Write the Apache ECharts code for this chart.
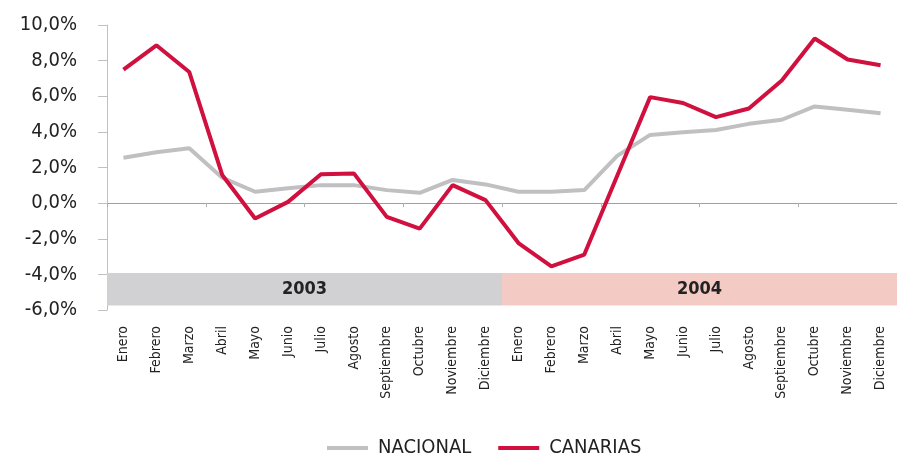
<!DOCTYPE html>
<html>
<head>
<meta charset="utf-8">
<script src="https://cdn.jsdelivr.net/npm/echarts@6/dist/echarts.min.js"></script>
<style>
  html, body { margin: 0; padding: 0; background: #fff; }
  #main { width: 897px; height: 458px; }
</style>
</head>
<body>
<div id="main"></div>
<script>
// meses (dos años)
var months = ['Enero', 'Febrero', 'Marzo', 'Abril', 'Mayo', 'Junio', 'Julio', 'Agosto',
  'Septiembre', 'Octubre', 'Noviembre', 'Diciembre'];
var categories = months.concat(months);

var nacional = [2.55, 2.86, 3.08, 1.43, 0.64, 0.83, 1.01, 1.01, 0.73, 0.58, 1.30, 1.05,
  0.64, 0.64, 0.73, 2.65, 3.83, 3.98, 4.11, 4.45, 4.68, 5.43, 5.24, 5.05];
var canarias = [7.50, 8.86, 7.36, 1.58, -0.86, 0.07, 1.62, 1.67, -0.77, -1.43, 1.01, 0.17,
  -2.24, -3.55, -2.89, 1.54, 5.95, 5.62, 4.83, 5.31, 6.89, 9.24, 8.06, 7.74];

// bandas de año
var years = ['2003', '2004'];
var yearStart = [0, 12];
var yearEnd = [11, 23];
var yearColors = ['#d1d1d4', '#f3cbc4'];

var FONT = "'DejaVu Sans Condensed', 'Liberation Sans', sans-serif";

var bands = [];
for (var i = 0; i < years.length; i++) {
  bands.push([yearStart[i], yearEnd[i], years[i], i]);
}

var chart = echarts.init(document.getElementById('main'));
chart.setOption({
  animation: false,
  grid: { left: 107, top: 25, width: 792, height: 285 },
  legend: {
    data: ['NACIONAL', 'CANARIAS'],
    left: 327,
    top: 438,
    padding: 0,
    icon: 'rect',
    itemWidth: 41,
    itemHeight: 4,
    itemGap: 27,
    textStyle: { fontFamily: FONT, fontSize: 20, color: '#222', padding: [0, 0, 0, 5] }
  },
  xAxis: [{
    type: 'category',
    data: categories,
    axisLine: { onZero: true, lineStyle: { color: '#a0a0a0', width: 1 } },
    axisTick: { show: true, length: 4, lineStyle: { color: '#b0b0b0' } },
    axisLabel: { show: false },
    splitLine: { show: false }
  }, {
    type: 'category',
    data: categories,
    position: 'bottom',
    axisLine: { show: false, onZero: false },
    axisTick: { show: false },
    axisLabel: {
      rotate: 90, margin: 16, interval: 0,
      fontFamily: FONT, fontSize: 14, color: '#222'
    }
  }],
  yAxis: {
    type: 'value',
    min: -6, max: 10, interval: 2,
    axisLine: { show: true, lineStyle: { color: '#c0c0c0' } },
    axisTick: { show: true, length: 9, lineStyle: { color: '#c0c0c0' } },
    splitLine: { show: false },
    axisLabel: {
      margin: 30,
      fontFamily: FONT, fontSize: 20, color: '#222',
      formatter: function (v) { return v.toFixed(1).replace('.', ',') + '%'; }
    }
  },
  series: [{
    type: 'custom',
    name: 'bands',
    xAxisIndex: 0,
    data: bands,
    encode: { x: [0, 1] },
    z: 1,
    silent: true,
    clip: false,
    renderItem: function (params, api) {
      var a = api.coord([api.value(0), -3.92]);
      var b = api.coord([api.value(1), -5.75]);
      var w = api.size([1, 0])[0];
      var idx = api.value(3);
      var x0 = a[0] - w / 2;
      var x1 = b[0] + w / 2;
      return {
        type: 'group',
        children: [{
          type: 'rect',
          shape: { x: x0, y: a[1], width: x1 - x0, height: b[1] - a[1] },
          style: { fill: yearColors[idx] }
        }, {
          type: 'text',
          style: {
            text: years[idx],
            x: (x0 + x1) / 2,
            y: (a[1] + b[1]) / 2,
            align: 'center',
            verticalAlign: 'middle',
            fill: '#222',
            font: 'bold 18px ' + FONT
          }
        }]
      };
    }
  }, {
    name: 'NACIONAL',
    type: 'line',
    data: nacional,
    symbol: 'none',
    z: 3,
    lineStyle: { color: '#c0c0c3', width: 4 },
    itemStyle: { color: '#c0c0c3' }
  }, {
    name: 'CANARIAS',
    type: 'line',
    data: canarias,
    symbol: 'none',
    z: 4,
    lineStyle: { color: '#d0103e', width: 4 },
    itemStyle: { color: '#d0103e' }
  }]
});
</script>
</body>
</html>
